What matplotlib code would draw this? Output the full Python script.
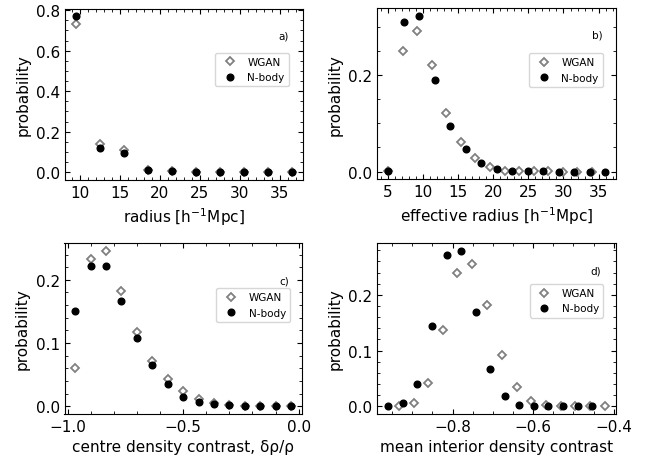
import matplotlib
matplotlib.use("Agg")
import matplotlib.pyplot as plt
from matplotlib.ticker import MultipleLocator, AutoMinorLocator

# ---- data ----
# a) radius
radius_x = [9.5, 12.5, 15.5, 18.5, 21.5, 24.5, 27.5, 30.5, 33.5, 36.5]
radius_wgan = [0.733, 0.141, 0.110, 0.012, 0.005, 0.001, 0.0005, 0.0003, 0.0002, 0.0001]
radius_nbody = [0.770, 0.118, 0.093, 0.012, 0.005, 0.001, 0.0005, 0.0003, 0.0002, 0.0001]

# b) effective radius
eff_x_wgan = [5.0, 7.08, 9.15, 11.23, 13.3, 15.38, 17.45, 19.53, 21.6, 23.68,
              25.75, 27.83, 29.9, 31.98, 34.05]
eff_wgan = [0.002, 0.251, 0.292, 0.221, 0.121, 0.061, 0.028, 0.009, 0.002, 0.0005,
            0.0002, 0.0001, 0.0, 0.0, 0.0]
eff_x_nbody = [5.0, 7.21, 9.42, 11.63, 13.84, 16.05, 18.26, 20.47, 22.68, 24.89,
               27.1, 29.31, 31.52, 33.73, 35.94]
eff_nbody = [0.002, 0.311, 0.323, 0.190, 0.095, 0.046, 0.017, 0.005, 0.001, 0.0003,
             0.0001, 0.0, 0.0, 0.0, 0.0]

# c) centre density contrast
cdc_x = [-0.9667, -0.9, -0.8333, -0.7667, -0.7, -0.6333, -0.5667, -0.5, -0.4333,
         -0.3667, -0.3, -0.2333, -0.1667, -0.1, -0.0333]
cdc_wgan = [0.0605, 0.233, 0.246, 0.182, 0.118, 0.0716, 0.0426, 0.0237, 0.0116,
            0.005, 0.002, 0.001, 0.0003, 0.0001, 0.0001]
cdc_nbody = [0.150, 0.222, 0.222, 0.167, 0.108, 0.065, 0.035, 0.015, 0.0063,
             0.003, 0.0016, 0.0005, 0.0002, 0.0001, 0.0001]

# d) mean interior density contrast
mid_x_wgan = [-0.934, -0.897, -0.861, -0.824, -0.788, -0.751, -0.714, -0.678,
              -0.641, -0.605, -0.568, -0.531, -0.495, -0.458, -0.422]
mid_wgan = [0.0005, 0.006, 0.041, 0.136, 0.240, 0.256, 0.182, 0.092, 0.034,
            0.010, 0.002, 0.0005, 0.0001, 0.0, 0.0]
mid_x_nbody = [-0.960, -0.924, -0.888, -0.851, -0.815, -0.779, -0.743, -0.707,
               -0.670, -0.634, -0.598, -0.562, -0.526, -0.489, -0.453]
mid_nbody = [0.0, 0.005, 0.040, 0.144, 0.271, 0.279, 0.169, 0.067, 0.018,
             0.003, 0.0005, 0.0001, 0.0, 0.0, 0.0]

labels = ["WGAN", "N-body"]

plt.rcParams.update({
    "font.family": ["DejaVu Sans"],
    "font.size": 11,
    "xtick.direction": "in",
    "ytick.direction": "in",
    "xtick.top": True,
    "ytick.right": True,
    "xtick.minor.visible": True,
    "ytick.minor.visible": True,
})

W, H = 649, 460
fig = plt.figure(figsize=(W / 100, H / 100), dpi=100)


def make_axes(l, r, t, b):
    return fig.add_axes([l / W, 1 - b / H, (r - l) / W, (b - t) / H])


panels = [
    dict(box=(65, 302.7, 9.5, 181), xw=radius_x, yw=radius_wgan, xn=radius_x, yn=radius_nbody,
         xlabel=r"radius [h$^{-1}$Mpc]", xmaj=5, ymaj=0.2, tag="a)",
         leg=(0.942, 0.741), tagpos=(0.942, 0.845)),
    dict(box=(377.3, 616, 9.3, 180.3), xw=eff_x_wgan, yw=eff_wgan, xn=eff_x_nbody, yn=eff_nbody,
         xlabel=r"effective radius [h$^{-1}$Mpc]", xmaj=5, ymaj=0.2, tag="b)",
         leg=(0.944, 0.737), tagpos=(0.944, 0.844)),
    dict(box=(64.5, 301.7, 244, 415), xw=cdc_x, yw=cdc_wgan, xn=cdc_x, yn=cdc_nbody,
         xlabel="centre density contrast, δρ/ρ", xmaj=0.5, ymaj=0.1, tag="c)",
         leg=(0.951, 0.735), tagpos=(0.948, 0.78)),
    dict(box=(377.3, 615.7, 244, 415), xw=mid_x_wgan, yw=mid_wgan, xn=mid_x_nbody, yn=mid_nbody,
         xlabel="mean interior density contrast", xmaj=0.2, ymaj=0.1, tag="d)",
         leg=(0.948, 0.76), tagpos=(0.94, 0.838)),
]

for p in panels:
    ax = make_axes(*p["box"])
    ax.plot(p["xw"], p["yw"], linestyle="none", marker="D", markersize=4.4,
            markerfacecolor="white", markeredgecolor="#808080", markeredgewidth=1.3,
            label=labels[0])
    ax.plot(p["xn"], p["yn"], linestyle="none", marker="o", markersize=4.8,
            color="black", label=labels[1])
    ax.xaxis.set_major_locator(MultipleLocator(p["xmaj"]))
    ax.yaxis.set_major_locator(MultipleLocator(p["ymaj"]))
    ax.xaxis.set_minor_locator(AutoMinorLocator())
    ax.yaxis.set_minor_locator(AutoMinorLocator())
    ax.set_xlabel(p["xlabel"])
    ax.set_ylabel("probability")
    ax.legend(loc="upper right", bbox_to_anchor=p["leg"], borderaxespad=0,
              fontsize=7.5, handletextpad=0.7)
    ax.text(p["tagpos"][0], p["tagpos"][1], p["tag"], transform=ax.transAxes,
            ha="right", va="center", fontsize=7.5)

fig.savefig("out.png", dpi=100)
